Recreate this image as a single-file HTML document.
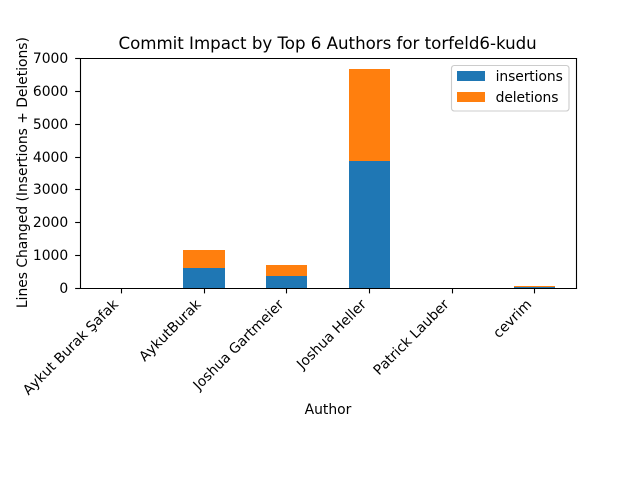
<!DOCTYPE html>
<html lang="en">
<head>
<meta charset="utf-8">
<title>Commit Impact by Top 6 Authors for torfeld6-kudu</title>
<style>
html,body{margin:0;padding:0;background:#fff;}
svg{display:block;}
text{font-family:"DejaVu Sans","Liberation Sans",sans-serif;font-size:13.89px;fill:#000;}
</style>
</head>
<body>
<svg id="chart" xmlns="http://www.w3.org/2000/svg" width="640" height="480" viewBox="0 0 640 480"></svg>
<script>
const categories = ["Aykut Burak Şafak", "AykutBurak", "Joshua Gartmeier", "Joshua Heller", "Patrick Lauber", "cevrim"];
const insertions = [0, 610, 370, 3865, 0, 28];
const deletions = [0, 545, 330, 2800, 0, 35];
const yTicks = [0, 1000, 2000, 3000, 4000, 5000, 6000, 7000];
const seriesNames = ["insertions", "deletions"];

const NS = "http://www.w3.org/2000/svg";
const svg = document.getElementById("chart");
const plot = {left: 80, right: 576, top: 58, bottom: 288};
const yMax = 7000;
const barFrac = 0.5;
const colors = ["#1f77b4", "#ff7f0e"];

function xScale(i) {
  return plot.left + (i + 0.5) * (plot.right - plot.left) / categories.length;
}
function yScale(v) {
  return plot.bottom - (v / yMax) * (plot.bottom - plot.top);
}
function make(tag, attrs, text) {
  const el = document.createElementNS(NS, tag);
  for (const k in attrs) el.setAttribute(k, attrs[k]);
  if (text !== undefined) el.textContent = text;
  svg.appendChild(el);
  return el;
}
const bandW = (plot.right - plot.left) / categories.length * barFrac;

categories.forEach(function (cat, i) {
  const x = Math.round(xScale(i) - bandW / 2);
  const w = Math.round(xScale(i) + bandW / 2) - x;
  const y0 = Math.round(yScale(0));
  const y1 = Math.round(yScale(insertions[i]));
  const y2 = Math.round(yScale(insertions[i] + deletions[i]));
  const a = make("rect", {x: x, y: y1, width: w, height: y0 - y1, fill: colors[0], "shape-rendering": "crispEdges"});
  
  
  const b = make("rect", {x: x, y: y2, width: w, height: y1 - y2, fill: colors[1], "shape-rendering": "crispEdges"});
  
  
});

const spines = [
  [plot.left + 0.5, plot.top + 0.5, plot.left + 0.5, plot.bottom + 0.5, 'spine-left'],
  [plot.right + 0.5, plot.top + 0.5, plot.right + 0.5, plot.bottom + 0.5, 'spine-right'],
  [plot.left + 0.5, plot.top + 0.5, plot.right + 0.5, plot.top + 0.5, 'spine-top'],
  [plot.left + 0.5, plot.bottom + 0.5, plot.right + 0.5, plot.bottom + 0.5, 'spine-bottom']
];
spines.forEach(function (s) {
  const l = make("line", {x1: s[0], y1: s[1], x2: s[2], y2: s[3], stroke: "#000", "stroke-width": 1.11, "stroke-linecap": "square"});
  
  
});

yTicks.forEach(function (t) {
  const y = Math.round(yScale(t)) + 0.5;
  const l = make("line", {x1: plot.left - 4.86, y1: y, x2: plot.left, y2: y, stroke: "#000", "stroke-width": 1.11});
  
  
  const lab = make("text", {x: plot.left - 11.8, y: y + 4.6, "text-anchor": "end"}, String(t));
  
  
});

categories.forEach(function (cat, i) {
  const x = xScale(i);
  const rx = Math.floor(x) + 0.5;
  const l = make("line", {x1: rx, y1: plot.bottom, x2: rx, y2: plot.bottom + 5.4, stroke: "#000", "stroke-width": 1.11});
  
  
  const ex = x - 2.3;
  const ey = 305.2;
  const lab = make("text", {x: ex, y: ey, "text-anchor": "end", transform: "rotate(-45 " + ex + " " + ey + ")", style: "font-kerning:none"}, cat);
  
  
});

const title = make("text", {x: 327.6, y: 49, "text-anchor": "middle", style: "font-size:16.67px;letter-spacing:-0.02px"}, "Commit Impact by Top 6 Authors for torfeld6-kudu");



const xTitle = make("text", {x: 328, y: 414, "text-anchor": "middle"}, "Author");



const yTitle = make("text", {x: 27, y: 172.6, "text-anchor": "middle", transform: "rotate(-90 27 172.6)", style: "letter-spacing:-0.02px"}, "Lines Changed (Insertions + Deletions)");



const legendBox = make("rect", {x: 451.5, y: 65.5, width: 117.5, height: 45.5, rx: 2.8, ry: 2.8, fill: "#fff", "fill-opacity": 0.8, stroke: "#ccc", "stroke-width": 1.11});



seriesNames.forEach(function (name, i) {
  const top = 71 + i * 21;
  const sw = make("rect", {x: 457, y: top, width: 28, height: 10, fill: colors[i], "shape-rendering": "crispEdges"});
  
  
  const lab = make("text", {x: 495.6, y: top + 10, style: "letter-spacing:-0.08px"}, name);
  
  
});
</script>
</body>
</html>
